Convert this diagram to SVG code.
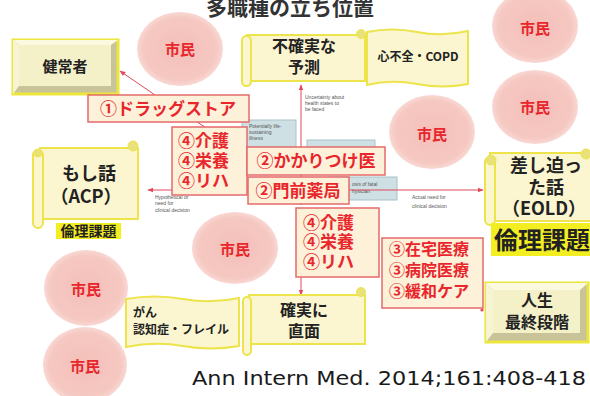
<svg xmlns="http://www.w3.org/2000/svg" width="590" height="396" viewBox="0 0 590 396">
<defs>
<style>
.jp{font-family:"Noto Sans CJK JP","Noto Sans",sans-serif;font-weight:bold}
.citt{fill:#e8262c;font-size:15px;text-anchor:middle}
.rbox{fill:#fdf1da;stroke:#e46a6a;stroke-width:1.5}
.rt{fill:#e8262c;font-size:17px}
.scr{fill:#fbf6d0;stroke:#ece44a;stroke-width:2}
.curl{fill:#e9e27a;stroke:#ece44a;stroke-width:1}
.dt{fill:#222;text-anchor:middle}
.con{stroke:#e04a5c;stroke-width:1;fill:none}
.blue{fill:#cfe0e4;stroke:#a9c2c8;stroke-width:1}
.tiny{font-family:"Liberation Sans",sans-serif;font-size:5px;fill:#555}
.bevout{fill:#c9c39a;stroke:#ece63c;stroke-width:3}
.bevface{fill:#f4f1c8}
.hl{fill:#f3ee22}
</style>
<marker id="ah" viewBox="0 0 10 10" refX="9" refY="5" markerWidth="6" markerHeight="6" orient="auto-start-reverse"><path d="M0,1 L10,5 L0,9 z" fill="#e04a5c"/></marker>
<radialGradient id="cg" cx="50%" cy="50%" r="50%"><stop offset="0%" stop-color="#f4bfb9"/><stop offset="85%" stop-color="#f6c8c2"/><stop offset="100%" stop-color="#f9d8d3"/></radialGradient>
</defs>
<rect width="590" height="396" fill="#ffffff"/>

<!-- title -->
<text class="jp" x="290" y="15" font-size="21" fill="#333" text-anchor="middle">多職種の立ち位置</text>

<!-- underlying figure: small boxes and labels -->
<g id="bg-figure">
<rect class="blue" x="242" y="120" width="54" height="28"/>
<text class="tiny" x="249" y="128">Potentially life-</text>
<text class="tiny" x="249" y="134">sustaining</text>
<text class="tiny" x="249" y="140">illness</text>
<rect class="blue" x="307" y="140" width="68" height="10"/>
<rect class="blue" x="330" y="177" width="67" height="23"/>
<text class="tiny" x="352" y="186">osis of fatal</text>
<text class="tiny" x="352" y="193">hysician</text>
<text class="tiny" x="305" y="99">Uncertainty about</text>
<text class="tiny" x="305" y="105">health states to</text>
<text class="tiny" x="305" y="111">be faced</text>
<text class="tiny" x="155" y="199">Hypothetical or</text>
<text class="tiny" x="155" y="205">need for</text>
<text class="tiny" x="155" y="212">clinical decision</text>
<text class="tiny" x="412" y="199">Actual need for</text>
<text class="tiny" x="412" y="208">clinical decision</text>
</g>

<!-- connectors -->
<g id="connectors">
<line class="con" x1="301" y1="205" x2="301" y2="85" marker-end="url(#ah)"/>
<line class="con" x1="301" y1="277" x2="301" y2="295" marker-end="url(#ah)"/>
<line class="con" x1="148" y1="190" x2="483" y2="190" marker-start="url(#ah)" marker-end="url(#ah)"/>
<line class="con" x1="155" y1="95" x2="120" y2="71" marker-end="url(#ah)"/>
<line class="con" x1="197" y1="122" x2="205" y2="127"/>
<circle cx="482" cy="310" r="1.6" fill="#e04a5c"/>
</g>

<!-- citizens -->
<g id="citizen1"><ellipse cx="180" cy="49" rx="43" ry="37" fill="url(#cg)"/><text class="jp citt" x="180" y="55">市民</text></g>
<g id="citizen2"><ellipse cx="535" cy="26" rx="43" ry="37" fill="url(#cg)"/><text class="jp citt" x="535" y="34">市民</text></g>
<g id="citizen3"><ellipse cx="535" cy="107" rx="43" ry="37" fill="url(#cg)"/><text class="jp citt" x="535" y="113">市民</text></g>
<g id="citizen4"><ellipse cx="432" cy="132" rx="43" ry="37" fill="url(#cg)"/><text class="jp citt" x="432" y="140">市民</text></g>
<g id="citizen5"><ellipse cx="235" cy="248" rx="43" ry="36" fill="url(#cg)"/><text class="jp citt" x="235" y="255">市民</text></g>
<g id="citizen6"><ellipse cx="86" cy="288" rx="42" ry="38" fill="url(#cg)"/><text class="jp citt" x="86" y="295">市民</text></g>
<g id="citizen7"><ellipse cx="85" cy="365" rx="42" ry="38" fill="url(#cg)"/><text class="jp citt" x="85" y="372">市民</text></g>

<!-- 健常者 bevel box -->
<g id="healthy">
<rect class="bevout" x="13" y="40" width="105" height="54"/>
<polygon points="13,40 118,40 111,45 19,45" fill="#fbf9e0"/>
<polygon points="13,40 19,45 19,86 13,94" fill="#f7f4d4"/>
<rect class="bevface" x="19" y="45" width="92" height="41"/>
<text class="jp dt" x="65" y="72" font-size="15">健常者</text>
</g>

<!-- 人生最終段階 bevel box -->
<g id="end-of-life">
<rect class="bevout" x="486" y="283" width="102" height="59"/>
<polygon points="486,283 588,283 580,290 493,290" fill="#fbf9e0"/>
<polygon points="486,283 493,290 493,333 486,342" fill="#f7f4d4"/>
<rect class="bevface" x="493" y="290" width="87" height="43"/>
<text class="jp dt" x="537" y="306" font-size="16">人生</text>
<text class="jp dt" x="537" y="328" font-size="16">最終段階</text>
</g>

<!-- 不確実な予測 scroll -->
<g id="uncertain">
<rect class="scr" x="247" y="35" width="118" height="46"/>
<rect class="scr" x="242" y="36" width="9" height="50" rx="4.5"/>
<circle class="curl" cx="361" cy="34" r="4.5"/>
<text class="jp dt" x="304" y="52" font-size="16">不確実な</text>
<text class="jp dt" x="304" y="73" font-size="16">予測</text>
</g>

<!-- 心不全・COPD -->
<g id="heart">
<path class="scr" d="M367,32 Q392,27 417,32 T468,31 L468,84 Q443,89 417,84 T367,85 Z"/>
<text class="jp dt" x="418" y="61" font-size="12">心不全・COPD</text>
</g>

<!-- もし話 scroll -->
<g id="acp">
<rect class="scr" x="40" y="148" width="98" height="71"/>
<rect class="scr" x="33" y="150" width="10" height="78" rx="5"/>
<circle class="curl" cx="38" cy="153" r="4"/>
<circle class="curl" cx="133" cy="146" r="5"/>
<text class="jp dt" x="89" y="180" font-size="18">もし話</text>
<text class="jp dt" x="86" y="203" font-size="18">（ACP）</text>
</g>
<g id="ethics-small">
<rect class="hl" x="56" y="223" width="65" height="16"/>
<text class="jp dt" x="88.5" y="236" font-size="14">倫理課題</text>
</g>

<!-- 差し迫った話 scroll -->
<g id="eold">
<rect class="scr" x="490" y="153" width="104" height="68"/>
<rect class="scr" x="485" y="157" width="10" height="68" rx="5"/>
<circle class="curl" cx="491" cy="160" r="5"/>
<circle class="curl" cx="586" cy="154" r="5"/>
<text class="jp dt" x="546" y="172" font-size="18">差し迫っ</text>
<text class="jp dt" x="546" y="194" font-size="18">た話</text>
<text class="jp dt" x="544" y="215" font-size="18">（EOLD）</text>
</g>
<g id="ethics-large">
<rect class="hl" x="491" y="223" width="99" height="33"/>
<text class="jp" x="494" y="249" font-size="24" fill="#222">倫理課題</text>
</g>

<!-- がん 認知症 -->
<g id="cancer">
<path class="scr" d="M126,299 Q155,294 183,299 T239,298 L239,346 Q211,351 183,346 T126,347 Z"/>
<text class="jp" x="133" y="317" font-size="12" fill="#222">がん</text>
<text class="jp" x="133" y="334" font-size="12" fill="#222">認知症・フレイル</text>
</g>

<!-- 確実に直面 scroll -->
<g id="certain">
<rect class="scr" x="249" y="295" width="116" height="49"/>
<rect class="scr" x="243" y="297" width="8" height="58" rx="4"/>
<circle class="curl" cx="361" cy="292" r="4.5"/>
<text class="jp dt" x="304" y="316" font-size="16">確実に</text>
<text class="jp dt" x="304" y="337" font-size="16">直面</text>
</g>

<!-- red role boxes -->
<g id="drugstore">
<rect class="rbox" x="88" y="95" width="161" height="27"/>
<text class="jp rt" x="168" y="115" text-anchor="middle">①ドラッグストア</text>
</g>
<g id="care1">
<rect class="rbox" x="172" y="127" width="75" height="68"/>
<text class="jp rt" x="178" y="147">④介護</text>
<text class="jp rt" x="178" y="167">④栄養</text>
<text class="jp rt" x="178" y="187">④リハ</text>
</g>
<g id="gp">
<rect class="rbox" x="247" y="147" width="138" height="28"/>
<text class="jp rt" x="316" y="167" text-anchor="middle">②かかりつけ医</text>
</g>
<g id="pharmacy">
<rect class="rbox" x="248" y="177" width="101" height="27"/>
<text class="jp rt" x="298" y="197" text-anchor="middle">②門前薬局</text>
</g>
<g id="care2">
<rect class="rbox" x="296" y="208" width="83" height="69"/>
<text class="jp rt" x="303" y="229">④介護</text>
<text class="jp rt" x="303" y="248">④栄養</text>
<text class="jp rt" x="303" y="268">④リハ</text>
</g>
<g id="medical">
<rect class="rbox" x="382" y="238" width="101" height="70"/>
<text class="jp" x="389" y="255" font-size="16" fill="#e8262c">③在宅医療</text>
<text class="jp" x="389" y="276" font-size="16" fill="#e8262c">③病院医療</text>
<text class="jp" x="389" y="297" font-size="16" fill="#e8262c">③緩和ケア</text>
</g>

<!-- citation -->
<text x="192" y="385" font-family="DejaVu Sans, sans-serif" font-size="19" fill="#1a1a1a" textLength="394" lengthAdjust="spacingAndGlyphs">Ann Intern Med. 2014;161:408-418</text>
</svg>
